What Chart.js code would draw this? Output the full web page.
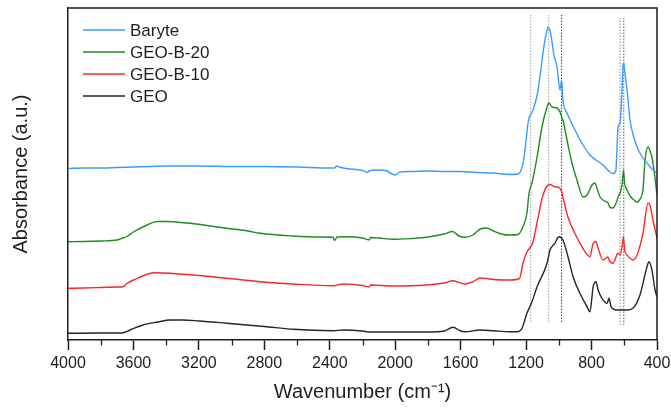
<!DOCTYPE html>
<html>
<head>
<meta charset="utf-8">
<script src="https://cdn.jsdelivr.net/npm/chart.js@4.4.1/dist/chart.umd.min.js"></script>
<style>
  html, body { margin: 0; padding: 0; background: #fff; }
  #wrap { width: 671px; height: 412px; }
</style>
</head>
<body>
<div id="wrap"><canvas id="ftir" width="671" height="412"></canvas></div>
<script>
// FTIR spectra, stacked with vertical offsets (wavenumber cm-1, absorbance a.u.)
const seriesNames = ['Baryte', 'GEO-B-20', 'GEO-B-10', 'GEO'];
const seriesColors = ['#3d9cff', '#1f8c1f', '#ff2626', '#262626'];

const baryte = [[4000,1.715],[3900,1.72],[3800,1.72],[3700,1.725],[3600,1.73],[3500,1.735],[3400,1.74],[3200,1.74],[3000,1.735],[2800,1.735],[2600,1.73],[2400,1.72],[2370,1.72],[2360,1.74],[2340,1.73],[2300,1.715],[2200,1.695],[2170,1.675],[2160,1.69],[2100,1.70],[2050,1.69],[2020,1.66],[2000,1.65],[1990,1.66],[1970,1.68],[1900,1.685],[1800,1.69],[1700,1.685],[1600,1.685],[1500,1.675],[1400,1.67],[1300,1.655],[1250,1.66],[1230,1.70],[1215,1.80],[1200,2.00],[1190,2.15],[1180,2.23],[1165,2.27],[1150,2.34],[1130,2.47],[1110,2.70],[1090,2.95],[1075,3.08],[1065,3.13],[1055,3.10],[1045,3.02],[1030,2.85],[1011,2.73],[993,2.50],[983,2.60],[975,2.40],[950,2.27],[910,2.13],[870,2.00],[810,1.85],[730,1.75],[680,1.67],[665,1.665],[651,1.70],[645,1.90],[638,2.13],[626,2.17],[615,2.45],[608,2.73],[603,2.77],[598,2.70],[583,2.50],[565,2.20],[540,2.02],[522,1.93],[490,1.83],[461,1.77],[430,1.71],[400,1.67]];

const geoB20 = [[4000,0.983],[3900,0.985],[3800,0.99],[3700,1.00],[3664,1.02],[3640,1.035],[3600,1.08],[3517,1.15],[3456,1.185],[3400,1.185],[3273,1.17],[3150,1.145],[3029,1.117],[2900,1.09],[2826,1.067],[2625,1.04],[2450,1.03],[2380,1.027],[2370,0.995],[2355,1.03],[2295,1.033],[2200,1.02],[2160,1.00],[2150,1.025],[2100,1.02],[2014,1.007],[1900,1.015],[1808,1.027],[1700,1.06],[1650,1.085],[1610,1.04],[1574,1.027],[1525,1.05],[1480,1.11],[1440,1.12],[1400,1.09],[1340,1.055],[1300,1.05],[1250,1.055],[1220,1.13],[1195,1.27],[1182,1.47],[1164,1.57],[1133,1.83],[1103,2.13],[1072,2.33],[1060,2.37],[1042,2.33],[1011,2.32],[990,2.27],[981,2.22],[975,2.20],[950,2.00],[920,1.77],[889,1.60],[852,1.43],[828,1.45],[797,1.55],[779,1.57],[767,1.52],[748,1.43],[720,1.39],[699,1.37],[690,1.33],[669,1.32],[650,1.37],[638,1.43],[626,1.47],[614,1.55],[605,1.70],[598,1.57],[583,1.50],[560,1.43],[540,1.40],[522,1.38],[500,1.42],[486,1.50],[473,1.80],[455,1.93],[440,1.88],[431,1.83],[412,1.62],[400,1.45]];

const geoB10 = [[4000,0.517],[3900,0.52],[3800,0.525],[3700,0.53],[3664,0.533],[3640,0.565],[3600,0.60],[3468,0.673],[3376,0.667],[3200,0.645],[3029,0.617],[2826,0.583],[2625,0.56],[2380,0.543],[2319,0.56],[2200,0.545],[2160,0.53],[2150,0.55],[2014,0.54],[1808,0.55],[1700,0.57],[1647,0.593],[1574,0.56],[1525,0.583],[1480,0.62],[1440,0.615],[1400,0.605],[1300,0.60],[1240,0.615],[1220,0.765],[1195,0.88],[1180,0.915],[1160,0.97],[1130,1.20],[1100,1.43],[1072,1.54],[1054,1.555],[1030,1.535],[993,1.517],[981,1.47],[975,1.43],[945,1.233],[902,1.067],[871,0.967],[840,0.883],[810,0.833],[790,0.967],[773,0.983],[760,0.917],[730,0.80],[700,0.83],[690,0.79],[669,0.767],[638,0.867],[626,0.85],[612,0.95],[605,1.033],[598,0.90],[583,0.85],[547,0.80],[522,0.85],[486,1.067],[455,1.367],[443,1.35],[425,1.20],[400,1.02]];

const geo = [[4000,0.067],[3800,0.07],[3700,0.07],[3664,0.073],[3621,0.10],[3542,0.15],[3450,0.18],[3376,0.20],[3297,0.20],[3200,0.19],[3029,0.167],[2800,0.135],[2625,0.107],[2380,0.093],[2319,0.10],[2200,0.09],[2154,0.08],[2014,0.08],[1808,0.08],[1700,0.09],[1647,0.127],[1600,0.09],[1574,0.083],[1480,0.10],[1400,0.093],[1300,0.083],[1250,0.083],[1225,0.117],[1195,0.267],[1164,0.383],[1133,0.533],[1072,0.767],[1054,0.90],[1024,0.967],[1000,1.033],[975,1.00],[944,0.833],[913,0.633],[871,0.467],[828,0.333],[810,0.283],[790,0.533],[773,0.583],[760,0.50],[736,0.417],[705,0.367],[693,0.417],[681,0.333],[645,0.30],[583,0.30],[547,0.317],[504,0.45],[461,0.733],[449,0.783],[431,0.70],[412,0.50],[400,0.433]];

// reference band positions (cm-1) marked with dotted lines, and their vertical extent
const bandPositions = [1172, 1062, 983, 626, 603];
const bandColors = ['#a0a0a0', '#a0a0a0', '#3a3a3a', '#909090', '#5a5a5a'];
const bandLow = [0.18, 0.18, 0.18, 0.15, 0.15];
const bandHigh = [3.25, 3.25, 3.25, 3.22, 3.22];

const majorTicks = [4000, 3600, 3200, 2800, 2400, 2000, 1600, 1200, 800, 400];
const minorTicks = [3800, 3400, 3000, 2600, 2200, 1800, 1400, 1000, 600];

const FONT = '"Liberation Sans", Arial, Helvetica, sans-serif';
const INK = '#1e1e1e';

const spectra = [baryte, geoB20, geoB10, geo];
const datasets = spectra.map((s, i) => ({
  label: seriesNames[i],
  data: s.map(p => ({ x: p[0], y: p[1] })),
  borderColor: seriesColors[i],
  borderWidth: 1.4,
  pointRadius: 0,
  cubicInterpolationMode: 'monotone',
  fill: false
}));
bandPositions.forEach((b, i) => {
  datasets.push({
    label: 'band ' + b,
    data: [{ x: b, y: bandLow[i] }, { x: b, y: bandHigh[i] }],
    borderColor: bandColors[i],
    borderWidth: 1,
    borderDash: [1.5, 1.5],
    pointRadius: 0,
    fill: false
  });
});

// legend drawn inside the plot area, top-left
const insetLegend = {
  id: 'insetLegend',
  afterDraw(chart) {
    const { ctx, chartArea: a } = chart;
    ctx.save();
    ctx.font = '17px ' + FONT;
    ctx.textBaseline = 'middle';
    ctx.textAlign = 'left';
    seriesNames.forEach((name, i) => {
      const y = a.top + 22 + i * 22;
      ctx.strokeStyle = seriesColors[i];
      ctx.lineWidth = 1.5;
      ctx.beginPath();
      ctx.moveTo(a.left + 15, y);
      ctx.lineTo(a.left + 57, y);
      ctx.stroke();
      ctx.fillStyle = INK;
      ctx.fillText(name, a.left + 62, y + 1);
    });
    ctx.restore();
  }
};

// box frame and minor ticks on the wavenumber axis
const frameAndMinor = {
  id: 'frameAndMinor',
  afterDraw(chart) {
    const { ctx, chartArea: a } = chart;
    const xs = chart.scales.x;
    ctx.save();
    ctx.strokeStyle = INK;
    ctx.lineWidth = 1.5;
    ctx.beginPath();
    ctx.moveTo(a.left, a.top);
    ctx.lineTo(a.right, a.top);
    ctx.lineTo(a.right, a.bottom);
    ctx.stroke();
    ctx.lineWidth = 1.3;
    minorTicks.forEach(v => {
      const x = Math.round(xs.getPixelForValue(v)) + 0.5;
      ctx.beginPath();
      ctx.moveTo(x, a.bottom);
      ctx.lineTo(x, a.bottom + 5.5);
      ctx.stroke();
    });
    ctx.restore();
  }
};

new Chart(document.getElementById('ftir'), {
  type: 'line',
  data: { datasets },
  options: {
    responsive: false,
    animation: false,
    devicePixelRatio: 1,
    layout: { padding: { top: 8, right: 14, left: 0, bottom: 0 } },
    plugins: {
      legend: { display: false },
      tooltip: { enabled: false }
    },
    scales: {
      x: {
        type: 'linear',
        reverse: true,
        min: 400,
        max: 4000,
        afterFit(scale) {
          scale.height = 72;
          scale.paddingLeft = 0;
          scale.paddingRight = 0;
        },
        afterBuildTicks(scale) { scale.ticks = majorTicks.map(v => ({ value: v })); },
        ticks: {
          color: INK,
          font: { family: FONT, size: 16 },
          padding: 4,
          maxRotation: 0,
          autoSkip: false,
          callback: v => String(v)
        },
        grid: {
          drawOnChartArea: false,
          drawTicks: true,
          tickLength: 10,
          tickColor: INK,
          tickWidth: 1.5
        },
        border: { display: true, color: INK, width: 1.5 },
        title: {
          display: true,
          text: 'Wavenumber (cm⁻¹)',
          color: INK,
          font: { family: FONT, size: 20 },
          padding: { top: 0, bottom: 8 }
        }
      },
      y: {
        type: 'linear',
        min: 0,
        max: 3.32,
        afterFit(scale) { scale.width = 68; },
        ticks: { display: false },
        grid: { display: false, drawTicks: false },
        border: { display: true, color: INK, width: 1.5 },
        title: {
          display: true,
          text: 'Absorbance (a.u.)',
          color: INK,
          font: { family: FONT, size: 20 },
          padding: { top: 9, bottom: 0 }
        }
      }
    }
  },
  plugins: [insetLegend, frameAndMinor]
});
</script>
</body>
</html>
